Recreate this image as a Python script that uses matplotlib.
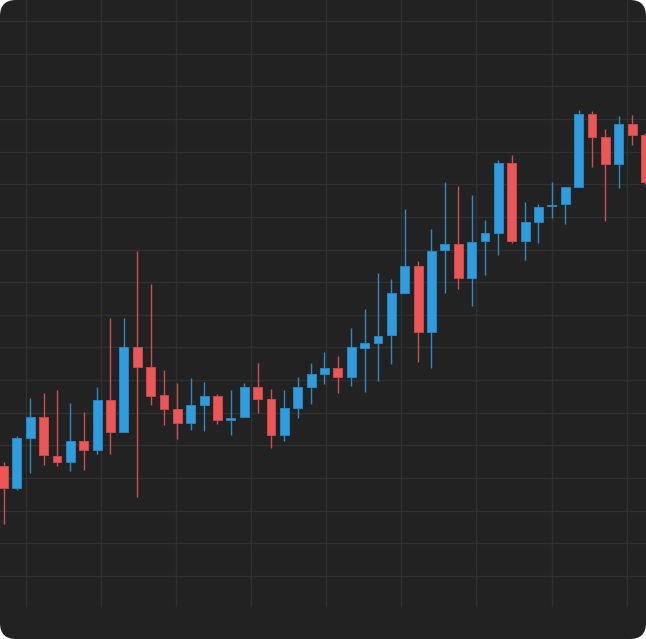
import matplotlib
matplotlib.use("Agg")
import matplotlib.pyplot as plt
from matplotlib.patches import FancyBboxPatch
import numpy as np

# OHLC data
opens = [43.69, 36.96, 52.27, 58.70, 46.76, 44.92, 51.35, 48.59, 63.91, 54.11,
         80.14, 74.02, 65.44, 61.15, 56.86, 62.38, 65.13, 57.78, 58.70, 67.89,
         64.21, 53.19, 61.46, 67.89, 71.87, 73.71, 70.95, 79.83, 81.37, 83.82,
         96.68, 104.95, 84.74, 109.85, 111.69, 101.27, 112.61, 115.06, 136.50, 112.61,
         118.43, 123.33, 123.94, 129.15, 151.50, 144.46, 136.19, 148.44, 145.07]
highs = [44.92, 52.88, 64.52, 66.05, 66.97, 62.99, 60.23, 67.89, 89.02, 89.02,
         109.54, 99.44, 73.10, 69.11, 70.65, 69.42, 65.75, 66.97, 69.11, 75.24,
         67.28, 66.97, 70.95, 75.24, 78.61, 77.38, 85.96, 91.78, 102.81, 100.97,
         122.41, 106.48, 116.28, 130.68, 129.45, 126.70, 119.04, 137.42, 138.95, 124.55,
         123.94, 130.68, 129.15, 152.73, 152.42, 146.91, 150.89, 151.20, 145.68]
lows = [25.93, 36.34, 41.55, 44.00, 43.69, 42.16, 42.47, 47.37, 47.37, 54.11,
        34.20, 62.38, 56.25, 51.96, 54.72, 54.41, 56.56, 53.19, 58.70, 59.93,
        49.21, 51.35, 58.39, 62.68, 68.81, 66.05, 68.20, 66.36, 69.73, 74.93,
        96.68, 75.55, 73.71, 96.68, 97.90, 92.70, 102.19, 108.32, 111.99, 106.79,
        111.99, 119.65, 117.81, 129.15, 135.27, 118.73, 128.84, 142.01, 130.06]
closes = [36.96, 52.27, 58.70, 47.06, 44.92, 51.35, 48.59, 63.91, 54.11, 80.14,
          74.02, 65.13, 61.15, 56.86, 62.38, 65.13, 57.78, 58.39, 67.89, 64.21,
          53.19, 61.46, 67.89, 71.87, 73.71, 70.95, 80.14, 81.37, 83.51, 96.68,
          104.95, 84.74, 109.54, 111.69, 101.27, 112.30, 115.06, 136.50, 112.61, 118.43,
          123.02, 123.63, 129.15, 151.50, 144.46, 136.19, 148.44, 145.07, 130.68]

price_grid = list(range(10, 190, 10))
time_grid = [1.645 + 5.62 * k for k in range(9)]

UP = "#2d9de0"
DOWN = "#ec5656"
UP_EDGE = "#2a86bd"
DOWN_EDGE = "#c84a4a"
BG = "#222222"
GRID = "#303030"

W, H = 646, 639
fig = plt.figure(figsize=(W / 100, H / 100), dpi=100)
fig.patch.set_facecolor("white")

bg = FancyBboxPatch((0, 0), W, H, boxstyle="round,pad=0,rounding_size=16",
                    transform=None, facecolor=BG, edgecolor="none", zorder=0)
fig.add_artist(bg)

ax = fig.add_axes([0, 32 / H, 1, 607 / H])
ax.set_facecolor("none")
ax.patch.set_visible(False)

x = np.arange(len(opens))
o = np.array(opens); c = np.array(closes); h = np.array(highs); l = np.array(lows)
up = c >= o
face = np.where(up, UP, DOWN)
edge = np.where(up, UP_EDGE, DOWN_EDGE)

ax.vlines(x, l, h, colors=list(face), linewidth=1.0, zorder=2, alpha=0.85)
bottoms = np.minimum(o, c)
heights = np.maximum(np.abs(c - o), 0.35)
ax.bar(x, heights, bottom=bottoms, width=0.66, color=list(face),
       edgecolor=list(edge), linewidth=0.7, zorder=3)

ax.set_xlim(-0.262, 48.04)
ax.set_ylim(0.51, 186.42)
ax.set_xticks(time_grid)
ax.set_yticks(price_grid)
ax.grid(True, color=GRID, linewidth=1.0, zorder=1)
ax.set_axisbelow(True)
ax.tick_params(length=0, labelbottom=False, labelleft=False)
for s in ax.spines.values():
    s.set_visible(False)

fig.savefig("out.png", dpi=100, facecolor=fig.get_facecolor())
